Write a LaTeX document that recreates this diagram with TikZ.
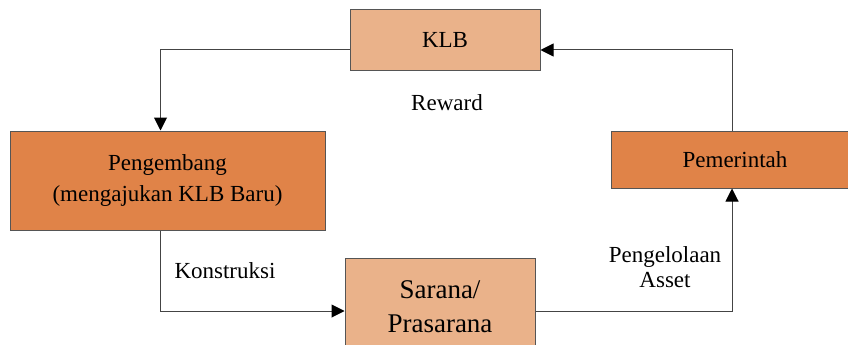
\documentclass[tikz,border=0pt]{standalone}
\usepackage{fontspec}
\setmainfont{Liberation Serif}
\usetikzlibrary{arrows.meta}

\definecolor{boxlight}{HTML}{EAB28A}
\definecolor{boxdark}{HTML}{E08348}
\definecolor{edgegray}{HTML}{555555}

\tikzset{
  actor/.style={draw=edgegray, line width=1pt, align=center, inner sep=2pt,
    font=\fontsize{23}{31}\selectfont},
  flow/.style={draw=edgegray!80!black, line width=1pt,
    -{Triangle[length=13pt,width=13pt,black]}},
  lbl/.style={align=center, font=\fontsize{23}{26}\selectfont}
}

\begin{document}
\begin{tikzpicture}[x=1pt, y=-1pt]
  % frame of the picture
  \useasboundingbox (0,0) rectangle (848,345);
  \clip (0,0) rectangle (848,345);

  % Boxes
  \node[actor, fill=boxlight, minimum width=190, minimum height=60] (klb) at (445,40) {KLB};
  \node[actor, fill=boxdark, minimum width=315, minimum height=99] (dev) at (167.5,180.5)
    {Pengembang\\(mengajukan KLB Baru)};
  \node[actor, fill=boxdark, minimum width=248, minimum height=57] (gov) at (735,159.5) {Pemerintah};
  \node[actor, fill=boxlight, minimum width=190, minimum height=98,
    font=\fontsize{27}{34}\selectfont] (sar) at (440,307) {Sarana/\\Prasarana};

  % Cycle of arrows
  \draw[flow] ([yshift=-10pt]klb.west) -| ([xshift=-7pt]dev.north);
  \draw[flow] ([xshift=-7pt]dev.south) |- ([yshift=-4pt]sar.west);
  \draw[flow] ([yshift=-4pt]sar.east) -| ([xshift=-3pt]gov.south);
  \draw[flow] ([xshift=-3pt]gov.north) |- ([yshift=-10pt]klb.east);

  % Labels
  \node[lbl] (reward) at (447,103) {Reward};
  \node[lbl] (build) at (225,271) {Konstruksi};
  \node[lbl, font=\fontsize{23}{25}\selectfont] (manage) at (665,267) {Pengelolaan\\Asset};
\end{tikzpicture}
\end{document}
